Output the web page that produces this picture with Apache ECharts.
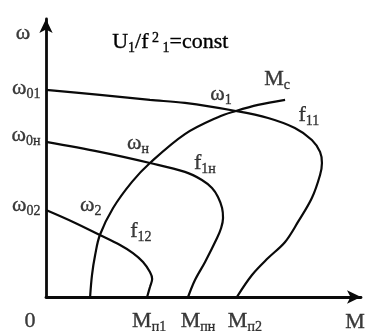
<!DOCTYPE html>
<html>
<head>
<meta charset="utf-8">
<script src="https://cdn.jsdelivr.net/npm/echarts@6/dist/echarts.min.js"></script>
<style>
  html, body { margin: 0; padding: 0; background: #fff; }
  #chart { width: 369px; height: 331px; }
</style>
</head>
<body>
<div id="chart"></div>
<script>
// Mechanical characteristics ω(M) of an induction motor with frequency control, U1/f1² = const.
// Each curve is a list of [M, ω] points in relative units (0..100 on both axes).
const curveF11 = [[0, 74.5], [17.1, 72.7], [33.0, 70.9], [44.1, 69.8], [60.3, 66.9], [70.5, 64.4],
  [79.0, 60.8], [84.4, 56.5], [87.0, 52.2], [87.6, 48.2], [87.0, 43.9], [84.4, 35.6], [80.0, 27.0],
  [75.9, 19.8], [70.5, 14.0], [65.4, 7.9], [60.6, 0]];
const curveF1n = [[0, 55.8], [17.1, 52.2], [33.0, 48.2], [44.1, 45.0], [49.5, 42.1], [52.7, 39.2],
  [54.6, 36.0], [55.9, 32.0], [56.2, 28.4], [55.6, 24.8], [54.3, 21.2], [50.5, 12.6], [47.3, 6.1], [45.1, 0]];
const curveF12 = [[0, 31.3], [8.6, 27.0], [17.1, 22.3], [23.5, 18.7], [27.6, 15.8], [30.8, 12.6],
  [33.0, 9.0], [33.7, 6.5], [33.0, 3.6], [32.1, 0]];
const curveMc = [[14.0, 0], [14.6, 7.9], [15.6, 15.1], [17.1, 22.3], [21.3, 32.0], [27.3, 41.4],
  [33.0, 48.2], [44.1, 58.6], [54.6, 64.7], [60.3, 66.9], [67.3, 69.1], [75.9, 70.9]];

// Tick captions: no-load speeds on the ω axis, starting torques on the M axis
const omegaTickSubs = ['01', '0н', '02'];
const torqueTickSubs = ['п1', 'пн', 'п2'];

const omegaTickValues = [curveF11[0][1], curveF1n[0][1], curveF12[0][1]];
const torqueTickValues = [curveF12[curveF12.length - 1][0], curveF1n[curveF1n.length - 1][0],
  curveF11[curveF11.length - 1][0]];

const FONT = "'Liberation Serif', 'Times New Roman', serif";
const INK = '#0a0a0a';

// Rich-text pieces: m = main glyph, s = subscript, p = superscript, g = narrow gap
function richStyles(halo) {
  const base = (size, lh, va) => Object.assign(
    { fontFamily: FONT, fontSize: size, lineHeight: lh, verticalAlign: va, color: INK }, halo);
  return {
    m: base(22, 24, 'top'),
    s: base(14, 12, 'bottom'),
    p: base(14, 16, 'top'),
    g: { fontFamily: FONT, fontSize: 14, lineHeight: 12, verticalAlign: 'top', color: INK }
  };
}
const labelRich = richStyles({ textBorderColor: INK, textBorderWidth: 0.35 });
const graphicRich = richStyles({ stroke: INK, lineWidth: 0.35 });

function caption(main, sub) {
  return sub ? '{m|' + main + '}{s|' + sub + '}' : '{m|' + main + '}';
}

function note(point, text, dx, dy) {
  return {
    value: point,
    label: { formatter: text, offset: [dx, dy], position: 'inside', align: 'center', verticalAlign: 'middle' }
  };
}

const notes = [];
const omegaDy = [-1, -6, -4];
omegaTickValues.forEach((v, i) => {
  notes.push({
    value: [0, v],
    label: { formatter: caption('ω', omegaTickSubs[i]), position: 'left', distance: 5, offset: [0, omegaDy[i]] }
  });
});
const torqueDx = [2, 10, 8];
torqueTickValues.forEach((v, i) => {
  notes.push(note([v, 0], caption('M', torqueTickSubs[i]), torqueDx[i], 25));
});
notes.push(note([0, 0], caption('0'), -16, 25));
notes.push(note([100, 0], caption('M'), -6, 26));
notes.push(note([0, 100], caption('ω'), -23, 15));
notes.push(note(curveF11[4], caption('ω', '1'), -15, -16));
notes.push(note(curveMc[curveMc.length - 1], caption('M', 'c'), -8, -20));
notes.push(note(curveF11[6], caption('f', '11'), 14, -12));
notes.push(note(curveF1n[2], caption('ω', 'н'), -12, -19));
notes.push(note(curveF1n[3], caption('f', '1н'), 20, -8));
notes.push(note(curveF12[2], caption('ω', '2'), -9, -29));
notes.push(note(curveF12[4], caption('f', '12'), 8, -21));

function curve(data) {
  return {
    type: 'line', data: data, smooth: 0.35, showSymbol: false, silent: true, clip: false,
    lineStyle: { color: INK, width: 2.2 }
  };
}

const axisCommon = {
  type: 'value', min: 0, max: 100,
  axisLine: {
    show: true, onZero: false, symbol: ['none', 'arrow'], symbolSize: [10, 14],
    lineStyle: { color: INK, width: 2.8 }
  },
  axisTick: { show: false }, axisLabel: { show: false }, splitLine: { show: false }
};

const chart = echarts.init(document.getElementById('chart'), null, { renderer: 'canvas' });
chart.setOption({
  animation: false,
  backgroundColor: '#fff',
  grid: { left: 46, right: 8, top: 19, bottom: 34 },
  xAxis: axisCommon,
  yAxis: axisCommon,
  graphic: [{
    type: 'text', left: 112, top: 31, silent: true,
    style: {
      text: '{m|U}{s|1}{m|/f}{g| }{p|2}{g| }{s|1}{m|=const}',
      rich: graphicRich
    }
  }],
  series: [
    curve(curveF11), curve(curveF1n), curve(curveF12), curve(curveMc),
    {
      type: 'scatter', data: notes, symbolSize: 1, silent: true, clip: false,
      itemStyle: { color: 'rgba(0,0,0,0)' },
      label: { show: true, rich: labelRich, color: INK }
    }
  ]
});
</script>
</body>
</html>
